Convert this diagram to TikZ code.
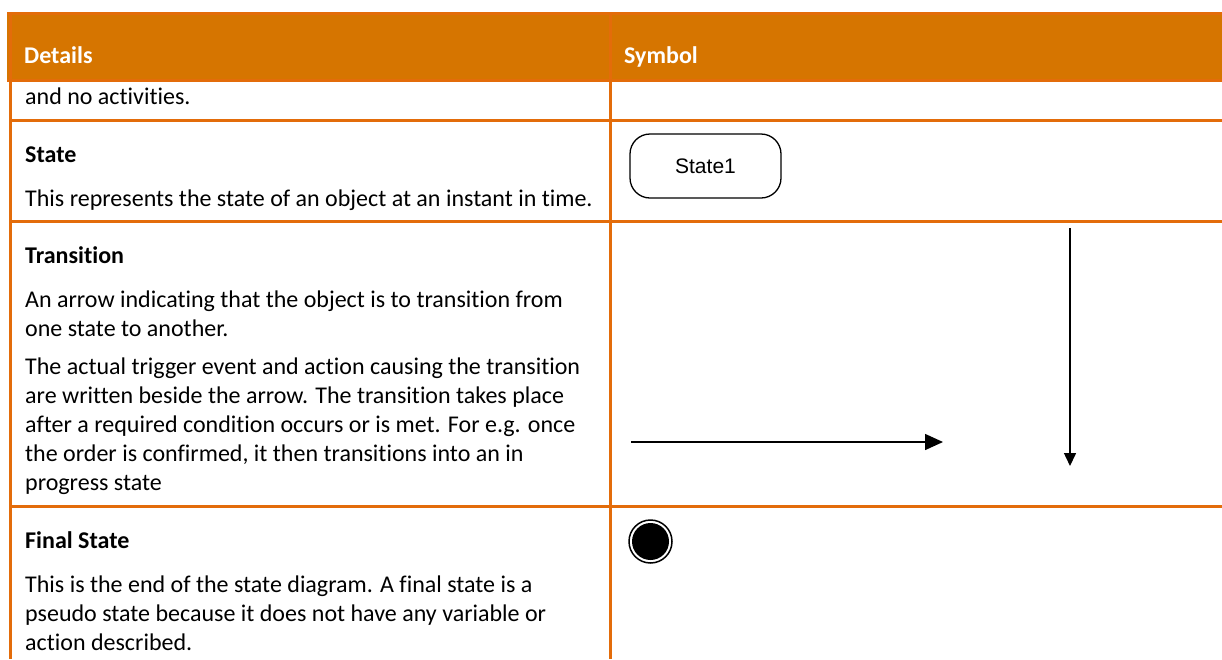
\documentclass[tikz,border=0pt]{standalone}
\usepackage{fontspec}
\setmainfont{Carlito}[Ligatures=NoCommon]
\newfontfamily\arialfont{Liberation Sans}
\usetikzlibrary{arrows.meta}
\definecolor{hdrfill}{RGB}{214,117,0}
\definecolor{gridor}{RGB}{227,108,10}
\begin{document}
\begin{tikzpicture}[x=1pt,y=-1pt,
  txt/.style={anchor=base west, inner sep=0pt, font=\fontsize{24}{29}\selectfont},
  hd/.style={anchor=base west, inner sep=0pt, font=\fontsize{24}{29}\selectfont\bfseries},
  gridline/.style={draw=gridor, line width=3pt},
  arr/.style={line width=1.5pt}]
\useasboundingbox (0,0) rectangle (1222,659);
\fill[white] (0,0) rectangle (1222,659);
% header
\fill[hdrfill] (7,12) rectangle (1222,82);
\draw[gridline, line width=3pt] (7,13.5) -- (1222,13.5);
\draw[gridline, line width=3pt] (7,80.5) -- (1222,80.5);
% grid
\draw[gridline] (10,12) -- (10,659);
\draw[gridline, line width=2.7pt] (610.5,12) -- (610.5,659);
\draw[gridline] (10,120) -- (1222,120);
\draw[gridline] (10,221) -- (1222,221);
\draw[gridline] (10,506.5) -- (1222,506.5);
% header text
\node[hd, text=white] (hdet) at (24,63) {Details};
\node[hd, text=white] (hsym) at (624,63) {Symbol};
% row 1
\node[txt] (r1) at (25,104) {and no activities.};
% row 2
\node[hd] (r2h) at (25,162) {State};
\node[txt] (r2a) at (25,206) {This represents the state of an object at an instant in time.};
\node[draw, line width=1.3pt, rounded corners=20pt, minimum width=151pt, minimum height=64pt,
      font=\arialfont\fontsize{21}{21}\selectfont] (s1) at (705.5,166) {State1};
% row 3
\node[hd] (r3h) at (25,263) {Transition};
\node[txt] (r3a) at (25,307) {An arrow indicating that the object is to transition from};
\node[txt] (r3b) at (25,336) {one state to another.};
\node[txt] (r3c) at (25,374) {The actual trigger event and action causing the transition};
\node[txt] (r3d) at (25,403) {are written beside the arrow. The transition takes place};
\node[txt] (r3e) at (25,432) {after a required condition occurs or is met. For e.g. once};
\node[txt] (r3f) at (25,461) {the order is confirmed, it then transitions into an in};
\node[txt] (r3g) at (25,490) {progress state};
\coordinate (ha) at (631,442);
\coordinate (hb) at (943,442);
\coordinate (va) at (1070,228);
\coordinate (vb) at (1070,466);
\draw[arr, -{Triangle[length=18pt,width=16pt]}] (ha) -- (hb);
\draw[arr, -{Triangle[length=13pt,width=12pt]}] (va) -- (vb);
% row 4
\node[hd] (r4h) at (25,548) {Final State};
\node[txt] (r4a) at (25,592) {This is the end of the state diagram. A final state is a};
\node[txt] (r4b) at (25,621) {pseudo state because it does not have any variable or};
\node[txt] (r4c) at (25,650) {action described.};
\node[circle, draw, line width=1.5pt, minimum size=43pt, inner sep=0pt] (fs) at (650.5,541.5) {};
\node[circle, fill=black, minimum size=37pt, inner sep=0pt] (fsin) at (fs.center) {};
\end{tikzpicture}
\end{document}
